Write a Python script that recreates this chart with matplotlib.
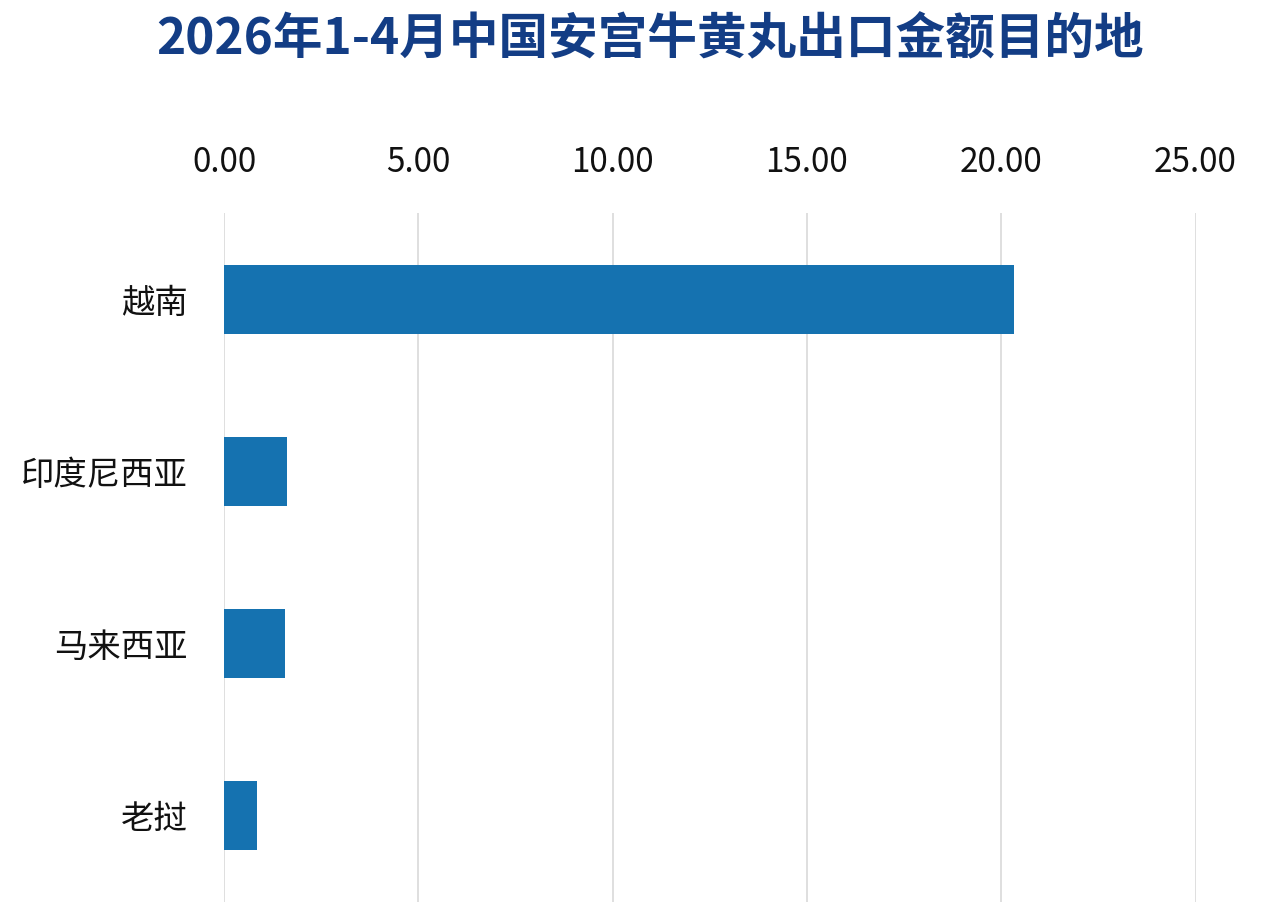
import numpy as np
import matplotlib
matplotlib.use('Agg')
import matplotlib.pyplot as plt

plt.rcParams['font.family'] = ['Noto Sans CJK SC', 'DejaVu Sans']

countries = ['越南', '印度尼西亚', '马来西亚', '老挝']
values = [20.32, 1.61, 1.58, 0.85]
xticks = [0, 5, 10, 15, 20, 25]
title = '2026年1-4月中国安宫牛黄丸出口金额目的地'

fig = plt.figure(figsize=(12.8, 9.16), dpi=100)
ax = fig.add_axes([0.175, 0.0153, 0.759, 0.7522])

y = np.arange(len(countries))
ax.barh(y, values, height=0.4, color='#1572b0', zorder=3)
ax.set_ylim(len(countries) - 0.5, -0.5)
ax.set_xlim(0, 25)
ax.set_xticks(xticks)
ax.set_xticklabels(['%.2f' % t for t in xticks])
ax.set_yticks(y)
ax.set_yticklabels(countries)
ax.xaxis.tick_top()
ax.tick_params(axis='x', length=0, pad=24, labelsize=24, colors='#111111')
ax.tick_params(axis='y', length=0, pad=26, labelsize=24, colors='#111111')
ax.grid(axis='x', color='#d9d9d9', linewidth=1.2, zorder=0)
for s in ax.spines.values():
    s.set_visible(False)

fig.text(0.508, 0.957, title, ha='center', va='center', fontsize=35.7,
         fontweight='bold', color='#133d85')

fig.savefig('out.png', dpi=100)
